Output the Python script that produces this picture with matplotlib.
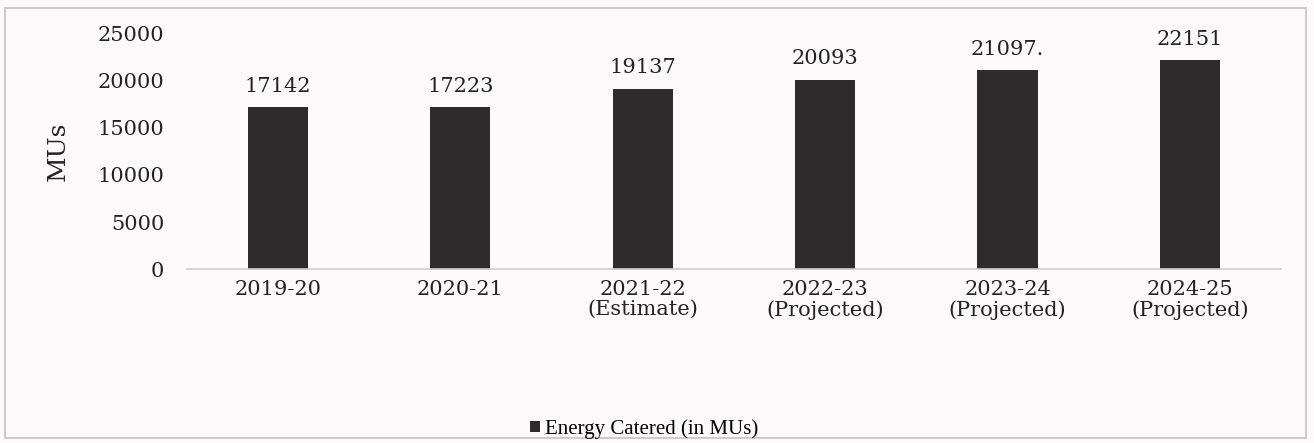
import numpy as np
import matplotlib.pyplot as plt
from matplotlib.patches import Rectangle

# data
years = ["2019-20", "2020-21", "2021-22\n(Estimate)", "2022-23\n(Projected)",
         "2023-24\n(Projected)", "2024-25\n(Projected)"]
energy = [17142, 17223, 19137, 20093, 21097, 22151]
value_labels = ["17142", "17223", "19137", "20093", "21097.", "22151"]
yticks = [0, 5000, 10000, 15000, 20000, 25000]

bg = "#fdf8fa"
bar_color = "#2f2b2d"

fig = plt.figure(figsize=(13.14, 4.43), dpi=100, facecolor=bg)
ax = fig.add_axes([0.142, 0.392, 0.833, 0.533], facecolor=bg)

x = np.arange(len(years))
bars = ax.bar(x, energy, width=0.33, color=bar_color, label="Energy Catered (in MUs)")

# value labels over the bars
for xi, v, txt in zip(x, energy, value_labels):
    ax.annotate(txt, (xi, v), xytext=(0, 8), textcoords="offset points",
                ha="center", va="bottom", fontsize=15, family="DejaVu Serif",
                color="#222222")

ax.set_xlim(-0.5, len(years) - 0.5)
ax.set_ylim(0, 25000)
ax.set_yticks(yticks)
ax.set_yticklabels([str(t) for t in yticks], family="DejaVu Serif", fontsize=15,
                   color="#222222")
ax.set_xticks(x)
ax.set_xticklabels(years, family="DejaVu Serif", fontsize=15, color="#222222",
                   linespacing=1.05)
ax.tick_params(axis="both", length=0)
ax.tick_params(axis="y", pad=16)
ax.tick_params(axis="x", pad=8)

for side in ["top", "right", "left"]:
    ax.spines[side].set_visible(False)
ax.spines["bottom"].set_color("#cfcacc")
ax.spines["bottom"].set_linewidth(1.2)

ax.set_ylabel("MUs", family="DejaVu Serif", fontsize=18, color="#222222",
              labelpad=20)

fig.legend(handles=[bars], labels=["Energy Catered (in MUs)"], loc="center",
           bbox_to_anchor=(0.49, 1 - 429 / 443), frameon=False,
           prop={"family": "Liberation Serif", "size": 15},
           handlelength=0.5, handleheight=0.5, handletextpad=0.2)

# outer frame of the scanned chart
fig.patches.append(Rectangle((0.004, 0.012), 0.99, 0.97, transform=fig.transFigure,
                             fill=False, edgecolor="#cfcbcd", linewidth=1.5))

fig.savefig("out.png", dpi=100, facecolor=bg)
